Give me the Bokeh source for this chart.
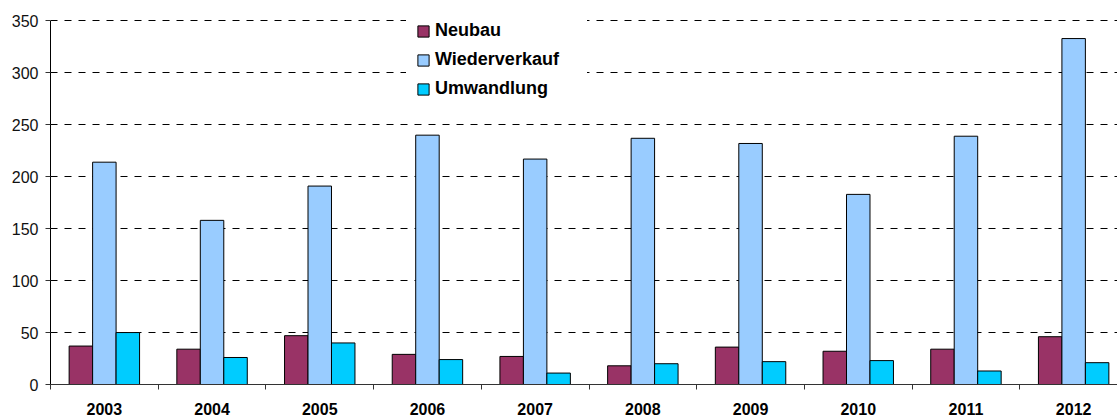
from bokeh.plotting import figure
from bokeh.models import (ColumnDataSource, Range1d, FixedTicker, Legend, LegendItem)
from bokeh.transform import dodge
from bokeh.embed import file_html
from bokeh.resources import INLINE

years = ["2003", "2004", "2005", "2006", "2007", "2008", "2009", "2010", "2011", "2012"]
neubau = [37, 34, 47, 29, 27, 18, 36, 32, 34, 46]
wiederverkauf = [214, 158, 191, 240, 217, 237, 232, 183, 239, 333]
umwandlung = [50, 26, 40, 24, 11, 20, 22, 23, 13, 21]
y_ticks = [0, 50, 100, 150, 200, 250, 300, 350]

centers = [i + 0.5 for i in range(len(years))]
bounds = [float(i) for i in range(len(years) + 1)]

src = ColumnDataSource(dict(x=centers, years=years, neubau=neubau,
                            wiederverkauf=wiederverkauf, umwandlung=umwandlung))

W = 1117
H = 417
LEFT = 50
CAT_PX = 107.7
Y_BOTTOM = 386
PX_PER_UNIT = (386 - 20.5) / 350.0
p = figure(width=W, height=H, output_backend="svg", toolbar_location=None,
           x_range=Range1d(0, (W - LEFT) / CAT_PX),
           y_range=Range1d(0, Y_BOTTOM / PX_PER_UNIT),
           min_border_left=LEFT, min_border_right=0, min_border_top=0, min_border_bottom=0)
p.outline_line_color = None
p.background_fill_color = "white"
p.border_fill_color = "white"

bw = 0.218
cols = [("neubau", "#993366", -bw), ("wiederverkauf", "#99CCFF", 0.0), ("umwandlung", "#00CCFF", bw)]
labels = ["Neubau", "Wiederverkauf", "Umwandlung"]
renderers = []
for (field, color, off) in cols:
    r = p.vbar(x=dodge("x", off), top=field, bottom=0, width=bw, source=src,
               fill_color=color, line_color="black", line_width=1)
    renderers.append(r)

# x axis
xa = p.xaxis[0]
xa.ticker = FixedTicker(ticks=centers, minor_ticks=bounds)
xa.major_label_overrides = {c: y for c, y in zip(centers, years)}
xa.major_tick_out = 0
xa.major_tick_in = 0
xa.minor_tick_out = 5
xa.minor_tick_in = 0
xa.minor_tick_line_color = "#333333"
xa.axis_line_color = "#333333"
xa.major_label_standoff = 13
xa.major_label_text_font = "Liberation Sans"
xa.major_label_text_font_style = "bold"
xa.major_label_text_font_size = "16px"
xa.major_label_text_color = "black"

# y axis
ya = p.yaxis[0]
ya.ticker = FixedTicker(ticks=y_ticks)
ya.bounds = (0, 350)
ya.major_tick_out = 5
ya.major_tick_in = 0
ya.minor_tick_line_color = None
ya.axis_line_color = "black"
ya.major_tick_line_color = "#333333"
ya.major_label_standoff = 7
ya.major_label_text_font = "Liberation Sans"
ya.major_label_text_font_size = "16px"
ya.major_label_text_color = "#111111"

p.xgrid.grid_line_color = None
p.ygrid.grid_line_color = "black"
p.ygrid.grid_line_dash = "7 7"
p.ygrid.grid_line_width = 1

legend = Legend(items=[LegendItem(label=l, renderers=[r]) for l, r in zip(labels, renderers)],
                location=(356, 275), orientation="vertical",
                glyph_width=14, glyph_height=14, label_height=20, spacing=8,
                padding=10, label_standoff=5, label_width=142,
                label_text_font="Liberation Sans", label_text_font_style="bold",
                label_text_font_size="18px", label_text_color="black",
                background_fill_color="white", background_fill_alpha=1.0,
                border_line_alpha=0)
p.add_layout(legend, "center")

open("out.html", "w").write(file_html(p, INLINE))
